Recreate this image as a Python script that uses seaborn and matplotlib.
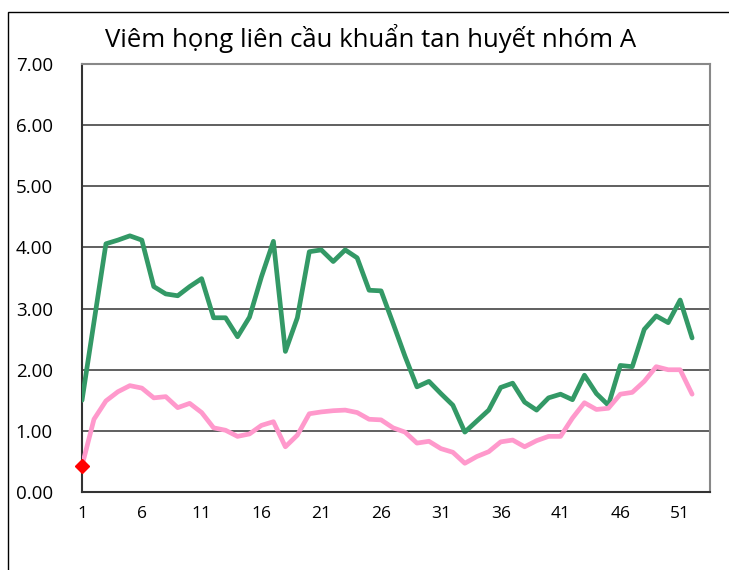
import numpy as np
import pandas as pd
import matplotlib
matplotlib.use("Agg")
import matplotlib.pyplot as plt
import seaborn as sns
from matplotlib.patches import Rectangle

# weekly incidence values
weeks = list(range(1, 53))
green_values = [1.50, 2.78, 4.06, 4.12, 4.19, 4.12, 3.36, 3.24, 3.21, 3.36,
                3.49, 2.85, 2.85, 2.54, 2.86, 3.52, 4.10, 2.30, 2.85, 3.93,
                3.96, 3.77, 3.96, 3.83, 3.30, 3.29, 2.76, 2.22, 1.72, 1.81,
                1.61, 1.42, 0.98, 1.16, 1.34, 1.71, 1.78, 1.47, 1.34, 1.54,
                1.60, 1.51, 1.91, 1.61, 1.42, 2.07, 2.05, 2.66, 2.88, 2.77,
                3.14, 2.52]
pink_values = [0.43, 1.19, 1.49, 1.64, 1.74, 1.70, 1.54, 1.56, 1.38, 1.45,
               1.30, 1.05, 1.01, 0.91, 0.95, 1.09, 1.15, 0.74, 0.93, 1.28,
               1.31, 1.33, 1.34, 1.30, 1.19, 1.18, 1.05, 0.98, 0.80, 0.83,
               0.71, 0.65, 0.47, 0.58, 0.66, 0.82, 0.85, 0.74, 0.84, 0.91,
               0.91, 1.21, 1.46, 1.35, 1.37, 1.60, 1.63, 1.81, 2.05, 2.00,
               2.00, 1.60]
x_ticks = [1, 6, 11, 16, 21, 26, 31, 36, 41, 46, 51]
y_ticks = [0, 1, 2, 3, 4, 5, 6, 7]
title = "Viêm họng liên cầu khuẩn tan huyết nhóm A"

df = pd.DataFrame({"week": weeks, "green": green_values, "pink": pink_values})

sns.set_style("white")
plt.rcParams["font.family"] = ["Open Sans", "DejaVu Sans"]

fig = plt.figure(figsize=(7.29, 5.70), dpi=100)
ax = fig.add_axes([0.1125, 0.1368, 0.8615, 0.7509])

# outer chart frame (cut off on right and bottom like the reference)
fig.patches.append(Rectangle((8 / 729, -0.1), 1.2, 1 - 12 / 570 + 0.1,
                             transform=fig.transFigure, fill=False,
                             edgecolor="black", linewidth=1.0))

for y in y_ticks[1:]:
    ax.axhline(y, color="#444444", linewidth=1.2, zorder=1)

sns.lineplot(data=df, x="week", y="green", ax=ax, color="#339966",
             linewidth=3.4, zorder=3)
sns.lineplot(data=df, x="week", y="pink", ax=ax, color="#FF99CC",
             linewidth=3.4, zorder=3)
ax.plot(df["week"].iloc[:1], df["pink"].iloc[:1], marker="D", color="red",
        markersize=7, linestyle="none", zorder=4, clip_on=False)

ax.set_xlim(1, 53.5)
ax.set_ylim(0, 7)
ax.set_xticks(x_ticks)
ax.set_yticks(y_ticks)
ax.set_yticklabels([f"{v:.2f}" for v in y_ticks])
ax.set_xlabel("")
ax.set_ylabel("")
ax.tick_params(axis="x", direction="in", length=4, width=0.8, pad=10,
               labelsize=12.5, labelcolor="black")
ax.tick_params(axis="y", length=0, pad=21, labelsize=13.5, labelcolor="black")

for side in ["top", "right"]:
    ax.spines[side].set_color("#888888")
    ax.spines[side].set_linewidth(1.5)
for side in ["left", "bottom"]:
    ax.spines[side].set_color("#333333")
    ax.spines[side].set_linewidth(1.5)

fig.text(0.508, 0.933, title, ha="center", va="center", fontsize=18.5,
         color="black")

fig.savefig("out.png", dpi=100)
